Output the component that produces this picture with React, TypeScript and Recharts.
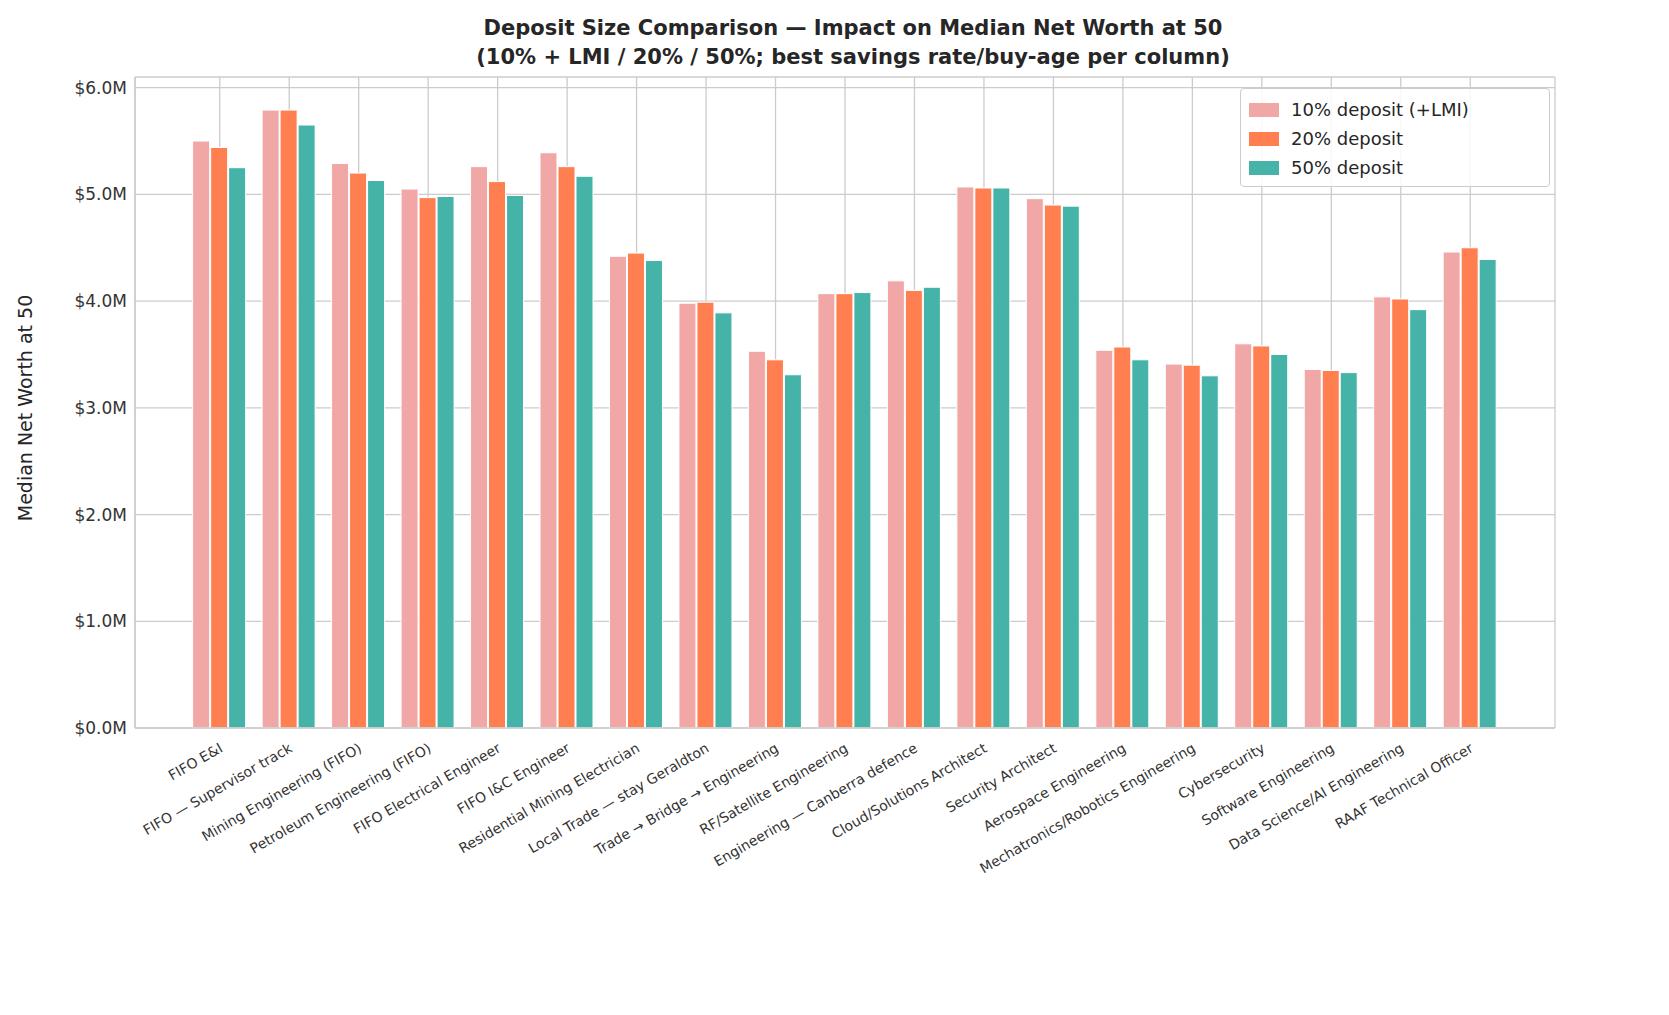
import React from "react";
import { BarChart, Bar, XAxis, YAxis, CartesianGrid } from "recharts";

const categories = ["FIFO E&I","FIFO — Supervisor track","Mining Engineering (FIFO)","Petroleum Engineering (FIFO)","FIFO Electrical Engineer","FIFO I&C Engineer","Residential Mining Electrician","Local Trade — stay Geraldton","Trade → Bridge → Engineering","RF/Satellite Engineering","Engineering — Canberra defence","Cloud/Solutions Architect","Security Architect","Aerospace Engineering","Mechatronics/Robotics Engineering","Cybersecurity","Software Engineering","Data Science/AI Engineering","RAAF Technical Officer"];
const dep10 = [5.50,5.79,5.29,5.05,5.26,5.39,4.42,3.98,3.53,4.07,4.19,5.07,4.96,3.54,3.41,3.60,3.36,4.04,4.46];
const dep20 = [5.44,5.79,5.20,4.97,5.12,5.26,4.45,3.99,3.45,4.07,4.10,5.06,4.90,3.57,3.40,3.58,3.35,4.02,4.50];
const dep50 = [5.25,5.65,5.13,4.98,4.99,5.17,4.38,3.89,3.31,4.08,4.13,5.06,4.89,3.45,3.30,3.50,3.33,3.92,4.39];
const yTicks = [0,1,2,3,4,5,6];

const data = categories.map((c, i) => ({ c, a: dep10[i], b: dep20[i], d: dep50[i] }));
const C1 = "#F2A7A7", C2 = "#FF7F50", C3 = "#45B3A8";
const font = "DejaVu Sans, sans-serif";

const XTick = (p: any) => (
  <text x={p.x} y={p.y + 8} transform={`rotate(-30 ${p.x} ${p.y + 8})`} textAnchor="end" fontSize={14} fill="#333" fontFamily={font} dy={8}>
    {p.payload.value}
  </text>
);

export default function App() {
  return (
    <div style={{ position: "relative", width: 1653, height: 1000, fontFamily: font }}>
      <div style={{ position: "absolute", top: 6, left: 0, width: 1690, textAlign: "center", fontWeight: "bold", fontSize: 21, lineHeight: "29px", color: "#262626" }}>
        Deposit Size Comparison — Impact on Median Net Worth at 50<br />(10% + LMI / 20% / 50%; best savings rate/buy-age per column)
      </div>
      <div style={{ position: "absolute", left: 2, top: 400, transform: "translate(0,-50%) rotate(-90deg)", transformOrigin: "center", fontSize: 19, color: "#262626", whiteSpace: "nowrap", width: 30, display: "flex", justifyContent: "center" }}>
        <span>Median Net Worth at 50</span>
      </div>
      <BarChart width={1653} height={1000} data={data} margin={{ top: 69, right: 106, left: 47, bottom: 80 }} barCategoryGap="11%" barGap={1}>
        <CartesianGrid stroke="#cccccc" strokeWidth={1.3} />
        <XAxis dataKey="c" interval={0} tick={<XTick />} tickLine={false} height={200} padding={{ left: 50, right: 50 }} stroke="#cccccc" strokeWidth={1.5} />
        <YAxis domain={[0, 6.1]} ticks={yTicks} tickFormatter={(v: number) => `$${v.toFixed(1)}M`} width={80} tickLine={false} tick={{ fontSize: 17, fill: "#333", fontFamily: font }} stroke="#cccccc" strokeWidth={1.5} />
        <Bar dataKey="a" fill={C1} stroke="#fff" strokeWidth={1} isAnimationActive={false} />
        <Bar dataKey="b" fill={C2} stroke="#fff" strokeWidth={1} isAnimationActive={false} />
        <Bar dataKey="d" fill={C3} stroke="#fff" strokeWidth={1} isAnimationActive={false} />
      </BarChart>
      <div style={{ position: "absolute", left: 1232, top: 80, width: 300, background: "rgba(255,255,255,0.85)", border: "1px solid #ccc", borderRadius: 4, padding: "6px 0 4px 8px", fontSize: 18, color: "#262626" }}>
        {[["10% deposit (+LMI)", C1], ["20% deposit", C2], ["50% deposit", C3]].map(([l, c]) => (
          <div key={l} style={{ display: "flex", alignItems: "center", height: 29 }}>
            <span style={{ display: "inline-block", width: 30, height: 14, background: c, marginRight: 12 }} />
            {l}
          </div>
        ))}
      </div>
    </div>
  );
}
